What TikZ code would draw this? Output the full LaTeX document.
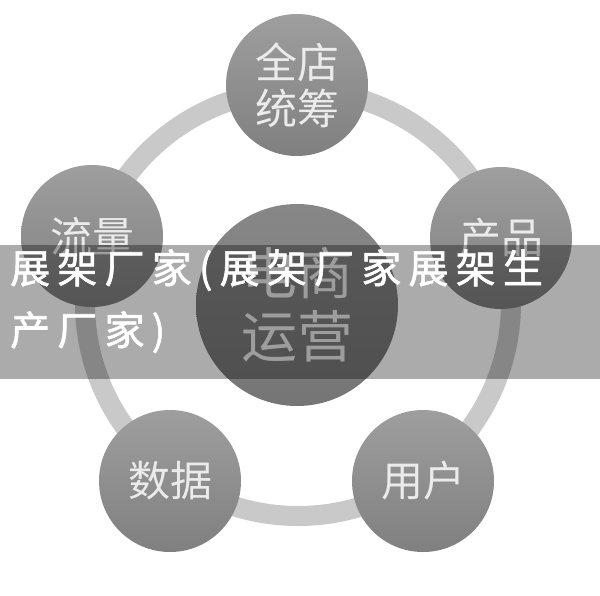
\documentclass[tikz,border=0pt]{standalone}
\usepackage{fontspec}
\newfontfamily\cjk{Noto Sans CJK SC}
\newfontfamily\bannerfont{Noto Sans CJK SC}[LetterSpace=18,FakeBold=1.5]
\begin{document}
\begin{tikzpicture}[x=1pt, y=-1pt,
  ball/.style={circle, minimum size=142pt, inner sep=0pt, align=center,
    top color=black!38, bottom color=black!50, text=black!8,
    font=\cjk\fontsize{42}{46}\selectfont},
  hub/.style={ball, minimum size=202pt, top color=black!47, bottom color=black!54,
    font=\cjk\fontsize{56}{63}\selectfont}]
 \useasboundingbox[fill=white] (0,0) rectangle (600,595);
 \draw[line width=20pt, black!21] (298,303) circle[radius=213];
 \node[hub]  (yunying)  at (297,305) {电商\\运营};
 \node[ball] (quandian) at (297,85)  {全店\\统筹};
 \node[ball] (chanpin)  at (501,238) {产品};
 \node[ball] (yonghu)   at (423,481) {用户};
 \node[ball] (shuju)    at (170,481) {数据};
 \node[ball] (liuliang) at (92,236)  {流量};
 \fill[black, opacity=0.33] (0,245) rectangle (600,379);
 \node[anchor=north west, inner sep=0pt, align=left, text=white,
   font=\bannerfont\fontsize{40}{62}\selectfont] (title) at (10,249)
   {展架厂家(展架厂家展架生\\产厂家)};
\end{tikzpicture}
\end{document}
